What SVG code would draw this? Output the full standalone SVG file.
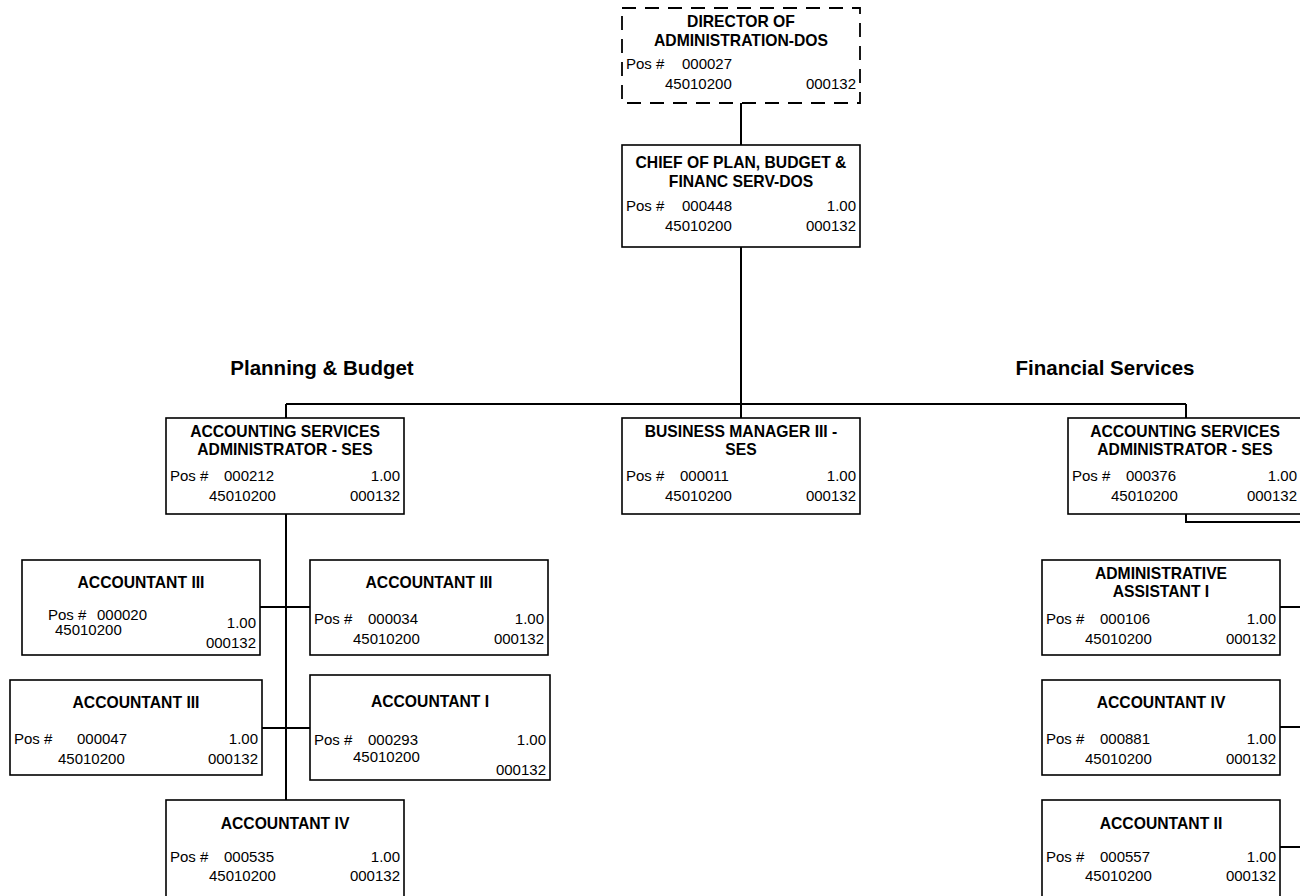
<svg xmlns="http://www.w3.org/2000/svg" width="1300" height="896" viewBox="0 0 1300 896">
  <style>
    .box { fill: #fff; stroke: #000; stroke-width: 1.6; }
    .dash { stroke-dasharray: 14 9; stroke-width: 1.8; }
    .conn { fill: none; stroke: #000; stroke-width: 2; }
    .t { font-family: "Liberation Sans", Arial, sans-serif; font-size: 15.7px; font-weight: bold; text-anchor: middle; fill: #000; }
    .b { font-family: "Liberation Sans", Arial, sans-serif; font-size: 15px; fill: #000; }
    .r { text-anchor: end; }
    .h { font-family: "Liberation Sans", Arial, sans-serif; font-size: 20.5px; font-weight: bold; text-anchor: middle; fill: #000; }
  </style>

  <!-- connectors -->
  <g id="connectors">
    <path class="conn" d="M741,103 V145 M741,247 V418 M286,404 H1186 M286,404 V418 M1186,404 V418"/>
    <path class="conn" d="M286,514 V800 M260,607 H310 M262,728 H310"/>
    <path class="conn" d="M1186,514 V522 H1302 M1280,607 H1302 M1280,727 H1302 M1280,847 H1302"/>
  </g>

  <!-- section headings -->
  <text class="h" x="322" y="375">Planning &amp; Budget</text>
  <text class="h" x="1105" y="375">Financial Services</text>

  <g id="director">
    <rect class="box dash" x="622" y="8" width="238" height="95"/>
    <text class="t" x="741" y="27">DIRECTOR OF</text>
    <text class="t" x="741" y="46">ADMINISTRATION-DOS</text>
    <text class="b" x="626" y="69">Pos #</text>
    <text class="b" x="682" y="69">000027</text>
    <text class="b" x="665" y="89">45010200</text>
    <text class="b r" x="856" y="89">000132</text>
  </g>

  <g id="chief">
    <rect class="box" x="622" y="145" width="238" height="102"/>
    <text class="t" x="741" y="168">CHIEF OF PLAN, BUDGET &amp;</text>
    <text class="t" x="741" y="187">FINANC SERV-DOS</text>
    <text class="b" x="626" y="211">Pos #</text>
    <text class="b" x="682" y="211">000448</text>
    <text class="b r" x="856" y="211">1.00</text>
    <text class="b" x="665" y="231">45010200</text>
    <text class="b r" x="856" y="231">000132</text>
  </g>

  <g id="asa-planning">
    <rect class="box" x="166" y="418" width="238" height="96"/>
    <text class="t" x="285" y="437">ACCOUNTING SERVICES</text>
    <text class="t" x="285" y="455">ADMINISTRATOR - SES</text>
    <text class="b" x="170" y="481">Pos #</text>
    <text class="b" x="224" y="481">000212</text>
    <text class="b r" x="400" y="481">1.00</text>
    <text class="b" x="209" y="501">45010200</text>
    <text class="b r" x="400" y="501">000132</text>
  </g>

  <g id="business-manager">
    <rect class="box" x="622" y="418" width="238" height="96"/>
    <text class="t" x="741" y="437">BUSINESS MANAGER III -</text>
    <text class="t" x="741" y="455">SES</text>
    <text class="b" x="626" y="481">Pos #</text>
    <text class="b" x="680" y="481">000011</text>
    <text class="b r" x="856" y="481">1.00</text>
    <text class="b" x="665" y="501">45010200</text>
    <text class="b r" x="856" y="501">000132</text>
  </g>

  <g id="asa-financial">
    <rect class="box" x="1068" y="418" width="234" height="96"/>
    <text class="t" x="1185" y="437">ACCOUNTING SERVICES</text>
    <text class="t" x="1185" y="455">ADMINISTRATOR - SES</text>
    <text class="b" x="1072" y="481">Pos #</text>
    <text class="b" x="1126" y="481">000376</text>
    <text class="b r" x="1297" y="481">1.00</text>
    <text class="b" x="1111" y="501">45010200</text>
    <text class="b r" x="1297" y="501">000132</text>
  </g>

  <g id="accountant-iii-000020">
    <rect class="box" x="22" y="560" width="238" height="95"/>
    <text class="t" x="141" y="588">ACCOUNTANT III</text>
    <text class="b" x="48" y="620">Pos #</text>
    <text class="b" x="97" y="620">000020</text>
    <text class="b r" x="256" y="628">1.00</text>
    <text class="b" x="55" y="635">45010200</text>
    <text class="b r" x="256" y="648">000132</text>
  </g>

  <g id="accountant-iii-000034">
    <rect class="box" x="310" y="560" width="238" height="95"/>
    <text class="t" x="429" y="588">ACCOUNTANT III</text>
    <text class="b" x="314" y="624">Pos #</text>
    <text class="b" x="368" y="624">000034</text>
    <text class="b r" x="544" y="624">1.00</text>
    <text class="b" x="353" y="644">45010200</text>
    <text class="b r" x="544" y="644">000132</text>
  </g>

  <g id="accountant-iii-000047">
    <rect class="box" x="10" y="680" width="252" height="95"/>
    <text class="t" x="136" y="708">ACCOUNTANT III</text>
    <text class="b" x="14" y="744">Pos #</text>
    <text class="b" x="77" y="744">000047</text>
    <text class="b r" x="258" y="744">1.00</text>
    <text class="b" x="58" y="764">45010200</text>
    <text class="b r" x="258" y="764">000132</text>
  </g>

  <g id="accountant-i-000293">
    <rect class="box" x="310" y="675" width="240" height="105"/>
    <text class="t" x="430" y="707">ACCOUNTANT I</text>
    <text class="b" x="314" y="745">Pos #</text>
    <text class="b" x="368" y="745">000293</text>
    <text class="b r" x="546" y="745">1.00</text>
    <text class="b" x="353" y="762">45010200</text>
    <text class="b r" x="546" y="775">000132</text>
  </g>

  <g id="accountant-iv-000535">
    <rect class="box" x="166" y="800" width="238" height="100"/>
    <text class="t" x="285" y="829">ACCOUNTANT IV</text>
    <text class="b" x="170" y="862">Pos #</text>
    <text class="b" x="224" y="862">000535</text>
    <text class="b r" x="400" y="862">1.00</text>
    <text class="b" x="209" y="881">45010200</text>
    <text class="b r" x="400" y="881">000132</text>
  </g>

  <g id="administrative-assistant-i">
    <rect class="box" x="1042" y="560" width="238" height="95"/>
    <text class="t" x="1161" y="579">ADMINISTRATIVE</text>
    <text class="t" x="1161" y="597">ASSISTANT I</text>
    <text class="b" x="1046" y="624">Pos #</text>
    <text class="b" x="1100" y="624">000106</text>
    <text class="b r" x="1276" y="624">1.00</text>
    <text class="b" x="1085" y="644">45010200</text>
    <text class="b r" x="1276" y="644">000132</text>
  </g>

  <g id="accountant-iv-000881">
    <rect class="box" x="1042" y="680" width="238" height="95"/>
    <text class="t" x="1161" y="708">ACCOUNTANT IV</text>
    <text class="b" x="1046" y="744">Pos #</text>
    <text class="b" x="1100" y="744">000881</text>
    <text class="b r" x="1276" y="744">1.00</text>
    <text class="b" x="1085" y="764">45010200</text>
    <text class="b r" x="1276" y="764">000132</text>
  </g>

  <g id="accountant-ii-000557">
    <rect class="box" x="1042" y="800" width="238" height="100"/>
    <text class="t" x="1161" y="829">ACCOUNTANT II</text>
    <text class="b" x="1046" y="862">Pos #</text>
    <text class="b" x="1100" y="862">000557</text>
    <text class="b r" x="1276" y="862">1.00</text>
    <text class="b" x="1085" y="881">45010200</text>
    <text class="b r" x="1276" y="881">000132</text>
  </g>
</svg>
